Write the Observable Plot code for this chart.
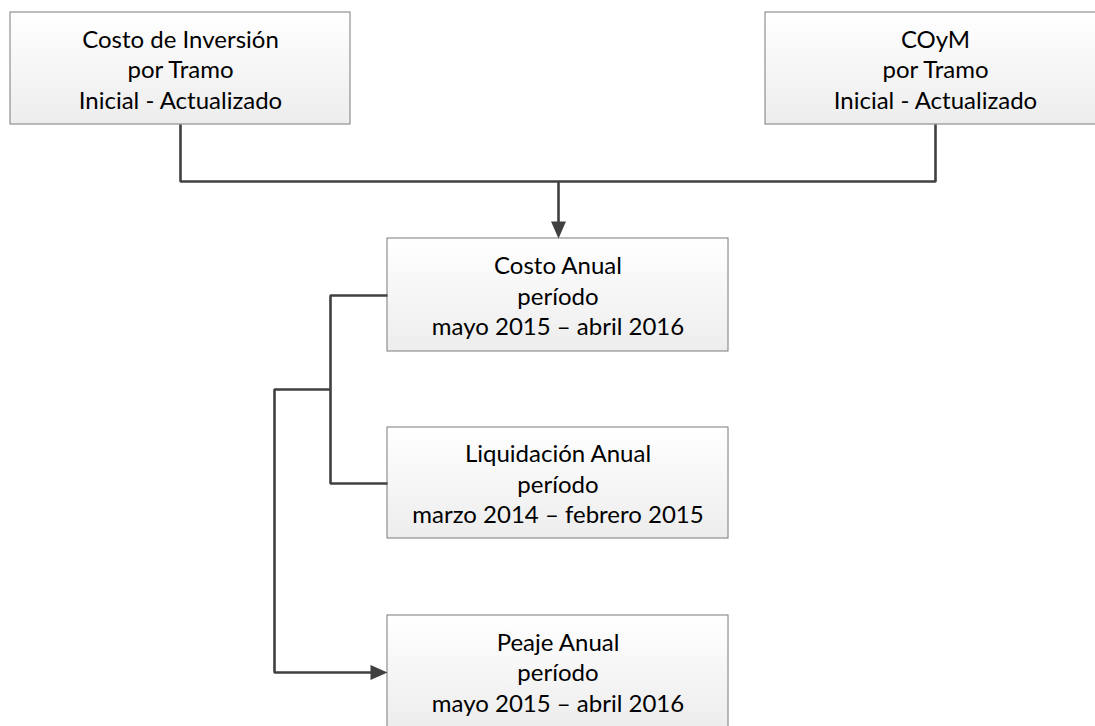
<!DOCTYPE html>
<html>
<head>
<meta charset="utf-8">
<script src="https://cdn.jsdelivr.net/npm/d3@7"></script>
<script src="https://cdn.jsdelivr.net/npm/@observablehq/plot@0.6"></script>
<style>
  html, body { margin: 0; padding: 0; background: #fff; overflow: hidden; }
  #chart svg { display: block; }
</style>
</head>
<body>
<div id="chart"></div>
<script>
// ---- Diagram data (pixel coordinate space of the 1095x726 canvas) ----
const boxLabels = [
  "Costo de Inversión\npor Tramo\nInicial - Actualizado",
  "COyM\npor Tramo\nInicial - Actualizado",
  "Costo Anual\nperíodo\nmayo 2015 – abril 2016",
  "Liquidación Anual\nperíodo\nmarzo 2014 – febrero 2015",
  "Peaje Anual\nperíodo\nmayo 2015 – abril 2016"
];
const boxX1 = [10, 765, 387, 387, 387];
const boxX2 = [350, 1105, 728, 728, 728];
const boxY1 = [12, 12, 238, 427, 615];
const boxY2 = [124, 124, 351, 538, 727];

// connectors: id, x, y (polyline vertices)
const connId = [1, 1, 1, 1, 2, 2, 3, 3, 3, 3, 4, 4, 4, 4];
const connX  = [180, 180, 935, 935, 558, 558, 387, 330, 330, 387, 330, 274, 274, 372];
const connY  = [124, 181, 181, 124, 181, 222, 295, 295, 483, 483, 389, 389, 672, 672];

// arrowhead tips and directions (degrees, 0 = pointing down)
const arrowX = [558, 387];
const arrowY = [238, 672];
const arrowRot = [0, -90];

const boxes = boxLabels.map((label, i) => ({
  label, x1: boxX1[i], x2: boxX2[i], y1: boxY1[i], y2: boxY2[i]
}));
const connectors = connId.map((id, i) => ({ id, x: connX[i], y: connY[i] }));
const arrows = arrowX.map((x, i) => ({ x, y: arrowY[i], rotate: arrowRot[i] }));

const lineColor = "#404040";
const arrowHead = {
  draw(ctx) {
    ctx.moveTo(0, 0);
    ctx.lineTo(-7.5, -17);
    ctx.lineTo(7.5, -17);
    ctx.closePath();
  }
};

const chart = Plot.plot({
  width: 1095,
  height: 726,
  margin: 0,
  style: { fontFamily: "Lato, 'Noto Sans', sans-serif", background: "#fff", overflow: "hidden" },
  x: { domain: [0, 1095], range: [0, 1095], axis: null },
  y: { domain: [0, 726], range: [0, 726], axis: null },
  marks: [
    // shadows
    Plot.rect(boxes, { x1: "x1", x2: "x2", y1: "y1", y2: "y2", dx: 4, dy: 4, fill: "#d4d4d4", filter: "url(#shadowBlur)" }),
    // boxes
    Plot.rect(boxes, { x1: "x1", x2: "x2", y1: "y1", y2: "y2", fill: "url(#boxGrad)", stroke: "#7a7a7a", strokeWidth: 1 }),
    // connectors
    Plot.line(connectors, { x: "x", y: "y", z: "id", stroke: lineColor, strokeWidth: 2.6, curve: "linear", strokeLinejoin: "miter", strokeLinecap: "butt" }),
    // arrowheads
    Plot.dot(arrows, { x: "x", y: "y", rotate: "rotate", symbol: arrowHead, fill: lineColor, stroke: "none" }),
    // labels
    Plot.text(boxes, {
      x: d => (d.x1 + d.x2) / 2,
      y: d => (d.y1 + d.y2) / 2,
      text: "label",
      fontSize: 24,
      lineHeight: 1.27,
      fill: "#000",
      textAnchor: "middle",
      lineAnchor: "middle"
    })
  ]
});

// defs: gradient and shadow blur
const svg = d3.select(chart);
const defs = svg.insert("defs", ":first-child");
const grad = defs.append("linearGradient").attr("id", "boxGrad")
  .attr("x1", 0).attr("y1", 0).attr("x2", 0).attr("y2", 1);
grad.append("stop").attr("offset", "0%").attr("stop-color", "#ffffff");
grad.append("stop").attr("offset", "100%").attr("stop-color", "#ededed");
const f = defs.append("filter").attr("id", "shadowBlur")
  .attr("x", "-10%").attr("y", "-10%").attr("width", "120%").attr("height", "120%");
f.append("feGaussianBlur").attr("stdDeviation", 1.2);

document.getElementById("chart").appendChild(chart);
</script>
</body>
</html>
